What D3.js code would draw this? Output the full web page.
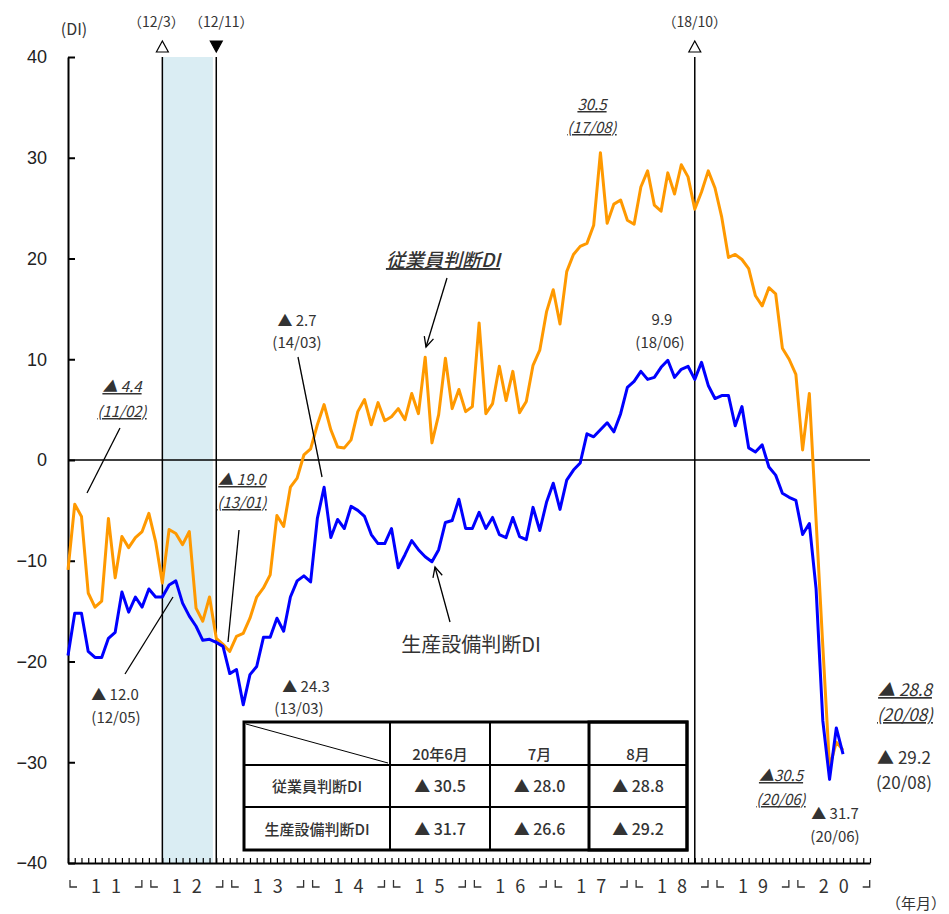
<!DOCTYPE html>
<html lang="ja">
<head>
<meta charset="UTF-8">
<title>従業員判断DI・生産設備判断DI</title>
<script src="https://d3js.org/d3.v7.min.js"></script>
<style>
    body { margin: 0; background: #fff; }
    text { font-family: "Noto Sans CJK JP", "Noto Sans", sans-serif; fill: #333; }
    .axis text { font-family: "Liberation Sans", Arial, sans-serif; font-size: 18px; fill: #222; }
    .axis path { stroke: #000; stroke-width: 2px; }
    .axis line { stroke: #000; }
</style>
</head>
<body>
<div id="chart"></div>
<script>
    // year labels (20xx) -> month categories "yy/mm"
    const yearLabels = ["11", "12", "13", "14", "15", "16", "17", "18", "19", "20"];
    const months = yearLabels.flatMap(y => d3.range(1, 13).map(m => y + "/" + String(m).padStart(2, "0")));

    // 従業員判断DI, 2011/01 - 2020/08
    const employeeDI = [
        -10.9, -4.4, -5.6, -13.2, -14.6, -14.0, -5.8, -11.7, -7.6, -8.7, -7.7, -7.1,
        -5.3, -8.1, -12.2, -6.9, -7.3, -8.4, -7.1, -14.7, -16.0, -13.6, -17.7, -18.3,
        -19.0, -17.5, -17.2, -15.7, -13.6, -12.7, -11.4, -5.5, -6.6, -2.7, -1.8, 0.5,
        1.1, 3.5, 5.5, 3.0, 1.3, 1.2, 2.0, 4.8, 6.0, 3.5, 5.7, 3.9,
        4.3, 5.1, 4.0, 6.6, 4.6, 10.2, 1.7, 4.5, 10.1, 5.1, 7.0, 4.8,
        5.3, 13.6, 4.6, 5.6, 9.3, 5.9, 8.8, 4.7, 5.8, 9.4, 10.9, 14.7,
        16.9, 13.5, 18.7, 20.4, 21.2, 21.5, 23.3, 30.5, 23.5, 25.4, 25.8, 23.8,
        23.4, 27.1, 28.7, 25.3, 24.7, 28.5, 26.4, 29.3, 28.1, 24.9, 26.6, 28.7,
        27.0, 24.1, 20.1, 20.4, 19.9, 19.0, 16.3, 15.3, 17.1, 16.5, 11.1, 10.0,
        8.5, 1.0, 6.6, -6.0, -18.5, -30.5, -28.0, -28.8
    ];

    // 生産設備判断DI, 2011/01 - 2020/08
    const equipmentDI = [
        -19.4, -15.2, -15.2, -19.0, -19.6, -19.6, -17.7, -17.1, -13.1, -15.1, -13.6, -14.6,
        -12.8, -13.6, -13.6, -12.4, -12.0, -14.2, -15.5, -16.5, -17.9, -17.8, -18.1, -18.5,
        -21.2, -20.8, -24.3, -21.3, -20.5, -17.6, -17.6, -15.7, -17.0, -13.6, -12.0, -11.5,
        -12.1, -5.8, -2.7, -7.7, -5.9, -6.8, -4.6, -5.0, -5.6, -7.4, -8.3, -8.3,
        -6.8, -10.7, -9.4, -8.0, -8.9, -9.6, -10.1, -8.9, -6.2, -6.0, -3.9, -6.8,
        -6.8, -5.2, -6.8, -5.7, -7.4, -7.7, -5.7, -7.6, -7.9, -4.7, -7.0, -4.2,
        -2.3, -4.9, -2.0, -1.0, -0.3, 2.6, 2.3, 3.0, 3.7, 2.8, 4.6, 7.2,
        7.8, 8.8, 8.0, 8.2, 9.2, 9.9, 8.2, 9.0, 9.3, 8.0, 9.7, 7.4,
        6.1, 6.4, 6.4, 3.4, 5.3, 1.2, 0.8, 1.5, -0.7, -1.5, -3.3, -3.7,
        -4.0, -7.4, -6.3, -12.8, -25.9, -31.7, -26.6, -29.2
    ];

    const yTicks = [-40, -30, -20, -10, 0, 10, 20, 30, 40];

    // business cycle marks: peak (open) / trough (filled)
    const cycleMonths = ["12/03", "12/11", "18/10"];
    const cycleLabels = ["（12/3）", "（12/11）", "（18/10）"];
    const cycleTypes = ["peak", "trough", "peak"];

    // inset table
    const tableCols = ["20年6月", "7月", "8月"];
    const tableRows = ["従業員判断DI", "生産設備判断DI"];
    const tableEmployee = ["▲ 30.5", "▲ 28.0", "▲ 28.8"];
    const tableEquipment = ["▲ 31.7", "▲ 26.6", "▲ 29.2"];

    const W = 949, H = 914;
    const svg = d3.select("#chart").append("svg")
        .attr("width", W)
        .attr("height", H);

    const x = d3.scalePoint().domain(months).range([68, 870]);
    const y = d3.scaleLinear().domain([-40, 40]).range([863, 57]);

    // shaded recession band
    const bandEnd = (x("12/10") + x("12/11")) / 2;
    svg.append("rect")
        .attr("x", x("12/03"))
        .attr("y", y(40))
        .attr("width", bandEnd - x("12/03"))
        .attr("height", y(-40) - y(40))
        .attr("fill", "#daedf3");

    // vertical cycle lines
    cycleMonths.forEach(m => {
        svg.append("line")
            .attr("x1", x(m)).attr("x2", x(m))
            .attr("y1", y(40)).attr("y2", y(-40))
            .attr("stroke", "#000").attr("stroke-width", 1.5);
    });

    // zero line
    svg.append("line")
        .attr("x1", 68).attr("x2", 870)
        .attr("y1", y(0)).attr("y2", y(0))
        .attr("stroke", "#000").attr("stroke-width", 1.5);

    // axes
    svg.append("g")
        .attr("class", "axis")
        .attr("transform", "translate(68,0)")
        .call(d3.axisLeft(y).tickValues(yTicks).tickSize(-7).tickSizeOuter(0).tickPadding(21))
        .selectAll(".tick line").attr("stroke-width", 2);

    svg.append("g")
        .attr("class", "axis")
        .attr("transform", `translate(0,${y(-40)})`)
        .call(d3.axisBottom(x).tickSize(-5).tickSizeOuter(0).tickFormat(""))
        .selectAll(".tick line").attr("stroke-width", 1.2);

    // year labels └ y y ┘
    const yearG = svg.append("g");
    yearLabels.forEach((yl, k) => {
        const xs = x(months[k * 12]);
        const xe = k < yearLabels.length - 1 ? x(months[k * 12 + 12]) : x(months[k * 12 + 11]) + 6.7;
        yearG.append("path")
            .attr("d", `M${xs + 2},880V887H${xs + 9}M${xe - 14},887H${xe - 7}V880`)
            .attr("fill", "none").attr("stroke", "#333").attr("stroke-width", 1.3);
        yl.split("").forEach((ch, j) => {
            yearG.append("text")
                .attr("x", xs + 38 + (j === 0 ? -10 : 10))
                .attr("y", 893)
                .attr("text-anchor", "middle")
                .style("font-size", "18px")
                .text(ch);
        });
    });

    // lines
    const line = d3.line()
        .x(d => x(d[0]))
        .y(d => y(d[1]));

    svg.append("path")
        .datum(employeeDI.map((v, i) => [months[i], v]))
        .attr("fill", "none")
        .attr("stroke", "#ff9900")
        .attr("stroke-width", 3)
        .attr("stroke-linejoin", "round")
        .attr("d", line);

    svg.append("path")
        .datum(equipmentDI.map((v, i) => [months[i], v]))
        .attr("fill", "none")
        .attr("stroke", "#0000ff")
        .attr("stroke-width", 3)
        .attr("stroke-linejoin", "round")
        .attr("d", line);

    // top labels and triangles
    cycleMonths.forEach((m, i) => {
        const cx = x(m);
        svg.append("text")
            .attr("x", cx - (i === 0 ? 6 : 0) + (i === 1 ? 5 : 0))
            .attr("y", 27)
            .attr("text-anchor", "middle")
            .style("font-size", "14px")
            .text(cycleLabels[i]);
        const tri = cycleTypes[i] === "peak"
            ? `M${cx - 6},52L${cx},41L${cx + 6},52Z`
            : `M${cx - 6},41L${cx},52L${cx + 6},41Z`;
        svg.append("path")
            .attr("d", tri)
            .attr("fill", cycleTypes[i] === "peak" ? "#fff" : "#000")
            .attr("stroke", "#000").attr("stroke-width", 1.2);
    });

    svg.append("text")
        .attr("x", 74).attr("y", 35)
        .attr("text-anchor", "middle")
        .style("font-size", "16px")
        .text("(DI)");

    svg.append("text")
        .attr("x", 916).attr("y", 909)
        .attr("text-anchor", "middle")
        .style("font-size", "15px")
        .text("（年月）");

    // inset table
    const colX = [244, 390, 490, 589, 687];
    const rowY = [722, 765, 807, 850];
    const tg = svg.append("g");
    tg.append("rect")
        .attr("x", colX[0]).attr("y", rowY[0])
        .attr("width", colX[4] - colX[0]).attr("height", rowY[3] - rowY[0])
        .attr("fill", "#fff");
    colX.slice(1, 4).forEach(cx => {
        tg.append("line").attr("x1", cx).attr("x2", cx).attr("y1", rowY[0]).attr("y2", rowY[3])
            .attr("stroke", "#000").attr("stroke-width", 2);
    });
    rowY.slice(1, 3).forEach(ry => {
        tg.append("line").attr("x1", colX[0]).attr("x2", colX[4]).attr("y1", ry).attr("y2", ry)
            .attr("stroke", "#000").attr("stroke-width", 2);
    });
    tg.append("line")
        .attr("x1", colX[0] + 2).attr("y1", rowY[0] + 2)
        .attr("x2", colX[1] - 2).attr("y2", rowY[1] - 2)
        .attr("stroke", "#000").attr("stroke-width", 1);
    tg.append("rect")
        .attr("x", colX[0]).attr("y", rowY[0])
        .attr("width", colX[4] - colX[0]).attr("height", rowY[3] - rowY[0])
        .attr("fill", "none").attr("stroke", "#000").attr("stroke-width", 3);
    tg.append("rect")
        .attr("x", colX[3]).attr("y", rowY[0])
        .attr("width", colX[4] - colX[3]).attr("height", rowY[3] - rowY[0])
        .attr("fill", "none").attr("stroke", "#000").attr("stroke-width", 3);

    const tableFont = sel => sel.style("font-size", "15px").style("font-weight", "500").attr("fill", "#111");
    tableCols.forEach((c, j) => {
        tg.append("text")
            .attr("x", (colX[j + 1] + colX[j + 2]) / 2).attr("y", 760)
            .attr("text-anchor", "middle").call(tableFont).text(c);
    });
    [tableEmployee, tableEquipment].forEach((vals, r) => {
        const by = (rowY[r + 1] + rowY[r + 2]) / 2 + 6;
        tg.append("text")
            .attr("x", (colX[0] + colX[1]) / 2).attr("y", by)
            .attr("text-anchor", "middle").call(tableFont).text(tableRows[r]);
        vals.forEach((v, j) => {
            tg.append("text")
                .attr("x", (colX[j + 1] + colX[j + 2]) / 2).attr("y", by)
                .attr("text-anchor", "middle").call(tableFont).style("font-size", "16px").text(v);
        });
    });

    // callouts
    function label(tx, ty, txt, opts = {}) {
        const t = svg.append("text")
            .attr("x", tx).attr("y", ty)
            .attr("text-anchor", "middle")
            .style("font-size", (opts.size || 15) + "px")
            .text(txt);
        if (opts.italic) t.style("font-style", "italic").style("text-decoration", "underline");
        return t;
    }
    function leader(x1, y1, x2, y2) {
        svg.append("line")
            .attr("x1", x1).attr("y1", y1).attr("x2", x2).attr("y2", y2)
            .attr("stroke", "#000").attr("stroke-width", 1.3);
    }
    function arrow(x1, y1, x2, y2) {
        leader(x1, y1, x2, y2);
        const a = Math.atan2(y1 - y2, x1 - x2), L = 11, s = 0.45;
        svg.append("path")
            .attr("d", `M${x2 + L * Math.cos(a - s)},${y2 + L * Math.sin(a - s)}L${x2},${y2}L${x2 + L * Math.cos(a + s)},${y2 + L * Math.sin(a + s)}`)
            .attr("fill", "none").attr("stroke", "#000").attr("stroke-width", 1.3);
    }

    label(122, 392, "▲ 4.4", { italic: true });
    label(122, 417, "(11/02)", { italic: true });
    leader(120, 428, 87, 493);

    label(242, 485, "▲ 19.0", { italic: true });
    label(242, 508, "(13/01)", { italic: true });
    leader(239, 530, 228, 642);

    label(115, 700, "▲ 12.0");
    label(116, 723, "(12/05)");
    leader(125, 674, 173, 597);

    label(306, 692, "▲ 24.3");
    label(299, 714, "(13/03)");

    label(297, 326, "▲ 2.7");
    label(297, 348, "(14/03)");
    leader(298, 357, 322, 477);

    label(662, 325, "9.9");
    label(660, 348, "(18/06)");

    label(592, 110, "30.5", { italic: true });
    label(592, 133, "(17/08)", { italic: true });

    label(905, 696, "▲ 28.8", { italic: true, size: 17 });
    label(905, 721, "(20/08)", { italic: true, size: 17 });

    label(904, 764, "▲ 29.2", { size: 17 });
    label(904, 789, "(20/08)", { size: 17 });

    label(781, 781, "▲30.5", { italic: true });
    label(781, 805, "(20/06)", { italic: true });

    label(835, 819, "▲ 31.7");
    label(835, 842, "(20/06)");

    // series names
    label(443, 267, "従業員判断DI", { italic: true, size: 19 }).attr("fill", "#111").style("font-weight", "500");
    arrow(447, 278, 426, 347);

    label(471, 652, "生産設備判断DI", { size: 20 }).attr("fill", "#111");
    arrow(450, 622, 435, 567);
</script>
</body>
</html>
